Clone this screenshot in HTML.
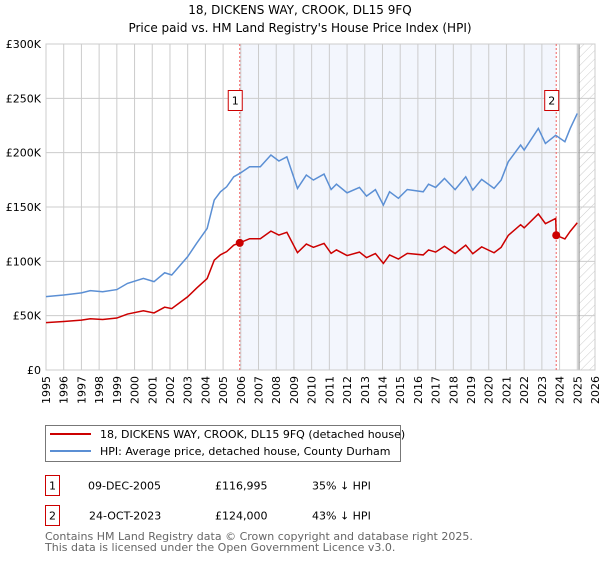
<!DOCTYPE html>
<html><head><meta charset="utf-8"><style>
body{margin:0;background:#fff;font-family:"DejaVu Sans","Liberation Sans",sans-serif;}
svg text{font-family:"DejaVu Sans","Liberation Sans",sans-serif;}
</style></head><body>
<svg id="chart" width="600" height="560" xmlns="http://www.w3.org/2000/svg">
<defs><pattern id="hatch" patternUnits="userSpaceOnUse" width="6" height="6" patternTransform="rotate(45)"><line x1="0" y1="0" x2="0" y2="6" stroke="#ccc" stroke-width="1"/></pattern></defs>
<text x="300" y="14" text-anchor="middle" font-size="12">18, DICKENS WAY, CROOK, DL15 9FQ</text>
<text x="300" y="32" text-anchor="middle" font-size="12">Price paid vs. HM Land Registry's House Price Index (HPI)</text>
<g id="plot"></g>
<g>
<rect x="45.5" y="425.5" width="355" height="36" fill="#fff" stroke="#777"/>
<line x1="50" y1="434" x2="91" y2="434" stroke="#cc0000" stroke-width="2"/>
<text x="100" y="438" font-size="11">18, DICKENS WAY, CROOK, DL15 9FQ (detached house)</text>
<line x1="50" y1="451" x2="91" y2="451" stroke="#5b8fd4" stroke-width="2"/>
<text x="100" y="455" font-size="11">HPI: Average price, detached house, County Durham</text>
</g>
<g font-size="11">
<rect x="45.5" y="475.5" width="14" height="20" fill="#fff" stroke="#cc0000"/>
<text x="52.5" y="489.5" text-anchor="middle">1</text>
<text x="88" y="489.5">09-DEC-2005</text><text x="215" y="489.5">£116,995</text><text x="312" y="489.5">35% ↓ HPI</text>
<rect x="45.5" y="505.5" width="14" height="20" fill="#fff" stroke="#cc0000"/>
<text x="52.5" y="519.5" text-anchor="middle">2</text>
<text x="89" y="519.5">24-OCT-2023</text><text x="215" y="519.5">£124,000</text><text x="312" y="519.5">43% ↓ HPI</text>
</g>
<text x="45" y="540" font-size="11" fill="#666">Contains HM Land Registry data © Crown copyright and database right 2025.</text>
<text x="45" y="551" font-size="11" fill="#666">This data is licensed under the Open Government Licence v3.0.</text>
</svg>
<script>
const hpiYears=[1995.0,1996.0,1997.0,1997.5,1998.2,1999.0,1999.6,2000.5,2001.1,2001.7,2002.1,2003.0,2003.5,2004.1,2004.5,2004.85,2005.2,2005.6,2005.95,2006.5,2007.1,2007.7,2008.15,2008.6,2009.2,2009.7,2010.1,2010.7,2011.1,2011.4,2012.0,2012.7,2013.1,2013.6,2014.05,2014.4,2014.9,2015.4,2016.3,2016.6,2017.0,2017.5,2018.1,2018.7,2019.1,2019.6,2020.3,2020.7,2021.1,2021.8,2022.0,2022.8,2023.2,2023.78,2024.3,2024.6,2025.0];
const hpiValues=[67.5,69,71,73,72,74,79.7,84.3,81.3,89.5,87.4,104.3,116.5,130.3,156.4,164,168.6,177.8,181,187,187,197.8,192.3,196.2,167.1,179.4,174.8,180.3,166.1,171,163,168,160,166,151.8,164,158,166.1,164,171,168,176.3,166,177.8,165.6,175.4,167.1,174.8,191.6,207,202.4,222.3,208.5,216,210.1,222.3,236.1];
const priceYears=[1995.0,1996.0,1997.0,1997.5,1998.2,1999.0,1999.6,2000.5,2001.1,2001.7,2002.1,2003.0,2003.5,2004.1,2004.5,2004.85,2005.2,2005.6,2005.94,2006.5,2007.1,2007.7,2008.15,2008.6,2009.2,2009.7,2010.1,2010.7,2011.1,2011.4,2012.0,2012.7,2013.1,2013.6,2014.05,2014.4,2014.9,2015.4,2016.3,2016.6,2017.0,2017.5,2018.1,2018.7,2019.1,2019.6,2020.3,2020.7,2021.1,2021.8,2022.0,2022.8,2023.2,2023.78,2023.81,2024.3,2024.6,2025.0];
const priceValues=[43.6,44.6,45.9,47.2,46.5,47.8,51.5,54.5,52.5,57.8,56.5,67.4,75.3,84.2,101,106,108.9,114.9,117,120.8,120.8,127.8,124.2,126.7,108,115.9,112.9,116.5,107.3,110.5,105.3,108.5,103.4,107.2,98.1,105.9,102.1,107.3,105.9,110.5,108.5,113.9,107.2,114.9,107,113.3,107.9,112.9,123.8,133.7,130.8,143.6,134.7,139.5,124,120.6,127.6,135.5];
const saleYears=[2005.94,2023.81];
const saleValues=[116.995,124];
const saleLabels=["1","2"];
const yTicks=[0,50,100,150,200,250,300];
const yTickLabels=["£0","£50K","£100K","£150K","£200K","£250K","£300K"];
const xTicks=[1995,1996,1997,1998,1999,2000,2001,2002,2003,2004,2005,2006,2007,2008,2009,2010,2011,2012,2013,2014,2015,2016,2017,2018,2019,2020,2021,2022,2023,2024,2025,2026];
const X0=46,X1=595,Y0=370,Y1=44,yrMin=1995,yrMax=2026,vMax=300,dataEnd=2025.1;
const sx=y=>X0+(y-yrMin)/(yrMax-yrMin)*(X1-X0);
const sy=v=>Y0-v/vMax*(Y0-Y1);
const NS="http://www.w3.org/2000/svg";
const g=document.getElementById('plot');
function mk(t,a){const e=document.createElementNS(NS,t);for(const k in a)e.setAttribute(k,a[k]);g.appendChild(e);return e;}
let e;
e=mk('rect',{x:sx(saleYears[0]),y:Y1,width:sx(saleYears[1])-sx(saleYears[0]),height:Y0-Y1,fill:'#f3f6fd'});


e=mk('rect',{x:sx(dataEnd),y:Y1,width:X1-sx(dataEnd),height:Y0-Y1,fill:'url(#hatch)'});


xTicks.forEach(t=>{const x=sx(t);
e=mk('line',{x1:x,x2:x,y1:Y1,y2:Y0,stroke:'#ccc','stroke-width':1});


e=mk('text',{x:0,y:0,'text-anchor':'end','font-size':11,transform:'translate('+(x+4)+','+(Y0+6)+') rotate(-90)'});e.textContent=t;

});
yTicks.forEach((t,i)=>{const y=sy(t);
e=mk('line',{x1:X0,x2:X1,y1:y,y2:y,stroke:'#ccc','stroke-width':1});


e=mk('text',{x:X0-5,y:y+4,'text-anchor':'end','font-size':11});e.textContent=yTickLabels[i];

});
e=mk('line',{x1:sx(dataEnd),x2:sx(dataEnd),y1:Y1,y2:Y0,stroke:'#999','stroke-width':1.2});


e=mk('rect',{x:X0,y:Y1,width:X1-X0,height:Y0-Y1,fill:'none',stroke:'#ccc'});


saleYears.forEach((s,i)=>{const x=sx(s);
e=mk('line',{x1:x,x2:x,y1:Y1,y2:Y0,stroke:'#f06060','stroke-width':1,'stroke-dasharray':'2,2'});

});
e=mk('polyline',{points:hpiYears.map((y,i)=>sx(y)+','+sy(hpiValues[i])).join(' '),fill:'none',stroke:'#5b8fd4','stroke-width':1.5});


e=mk('polyline',{points:priceYears.map((y,i)=>sx(y)+','+sy(priceValues[i])).join(' '),fill:'none',stroke:'#cc0000','stroke-width':1.5});


saleYears.forEach((s,i)=>{const x=sx(s);
e=mk('circle',{cx:x,cy:sy(saleValues[i]),r:4,fill:'#cc0000'});


e=mk('rect',{x:x-11.5,y:90.5,width:14,height:20,fill:'#fff',stroke:'#cc0000'});


e=mk('text',{x:x-4.5,y:104.5,'text-anchor':'middle','font-size':11});e.textContent=saleLabels[i];

});
</script>
</body></html>
